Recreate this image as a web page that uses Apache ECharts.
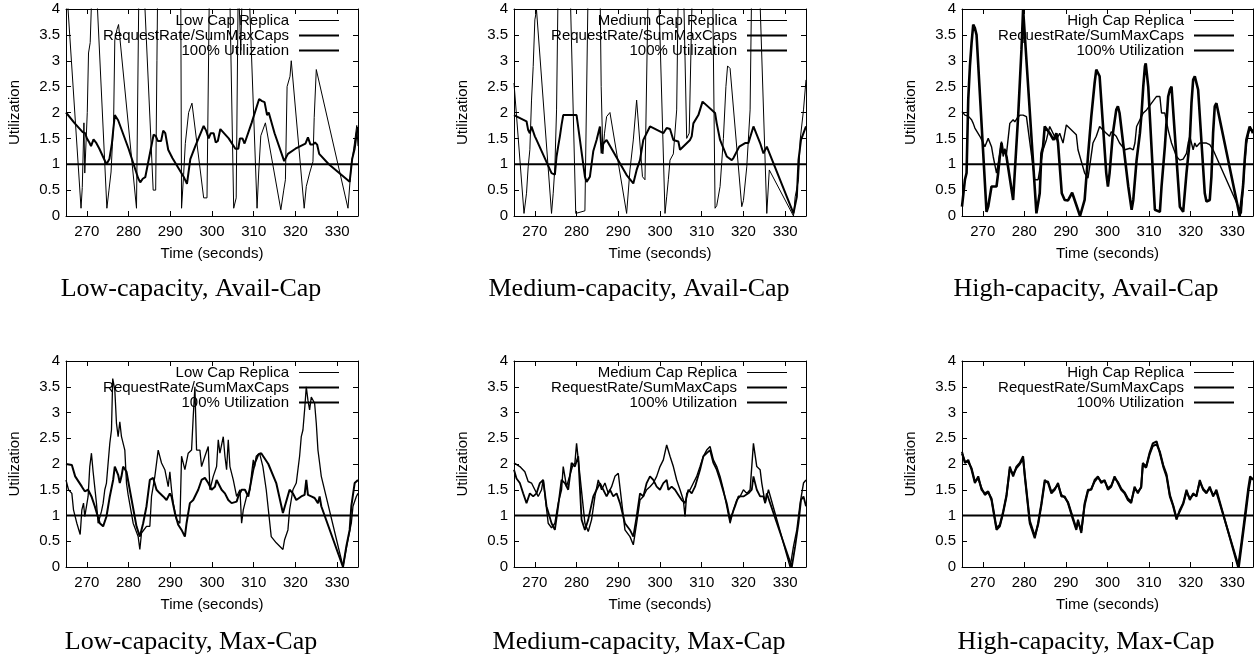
<!DOCTYPE html>
<html>
<head>
<meta charset="utf-8">
<script src="https://cdn.jsdelivr.net/npm/echarts@6/dist/echarts.min.js"></script>
<style>html,body{margin:0;padding:0;background:#fff}#c{width:1258px;height:658px}</style>
</head>
<body>
<div id="c"></div>
<script>
// ---------- data ----------
const panelTitles = ['Low-capacity, Avail-Cap','Medium-capacity, Avail-Cap','High-capacity, Avail-Cap',
                     'Low-capacity, Max-Cap','Medium-capacity, Max-Cap','High-capacity, Max-Cap'];
const replicaNames = ['Low Cap Replica','Medium Cap Replica','High Cap Replica'];
const rateName = 'RequestRate/SumMaxCaps';
const fullName = '100% Utilization';
const timeRange = [265, 335];
const fullUtil = [[265,1],[335,1]];

const lowAvailReplica = [[265,4.6],[268.6,0.15],[268.9,0.55],[269.3,1.8],[269.5,0.83],[269.8,0.85],[270.1,2.0],[270.4,3.15],[270.8,3.35],[271.3,4.6],[272.2,4.6],[274.8,0.15],[275.3,0.5],[275.8,0.85],[276.1,1.35],[276.4,1.75],[276.7,3.4],[277.2,3.6],[277.6,3.7],[281.9,0.15],[282.5,4.6],[283.6,4.6],[285.9,0.5],[286.5,0.5],[286.8,3.0],[287.0,4.6],[292.5,4.6],[292.7,0.15],[293.2,0.8],[293.6,1.4],[294.4,2.0],[295.2,2.18],[298.0,0.35],[298.8,0.35],[299.4,4.6],[304.2,4.6],[305.2,0.15],[305.8,0.35],[306.3,4.6],[306.6,4.6],[306.9,3.2],[307.3,4.6],[308.8,4.6],[310.8,0.15],[311.2,0.85],[311.7,1.55],[312.8,1.8],[316.5,0.12],[317.2,0.5],[317.6,0.7],[318,2.5],[318.7,2.7],[319,3.0],[322.1,0.15],[322.6,0.57],[323.4,0.83],[324.2,1.05],[324.5,1.9],[325,2.83],[332.6,0.15],[333.4,1.0],[333.8,1.2],[334.3,1.5],[334.7,1.75],[335,1.35]];
const lowAvailRate = [[265,2.0],[267,1.8],[269,1.62],[269.6,1.6],[270,1.5],[270.6,1.42],[271,1.35],[271.6,1.48],[272.2,1.42],[273,1.3],[274.7,1.0],[275.4,1.1],[276,1.4],[276.4,1.72],[276.7,1.95],[277.5,1.85],[280,1.3],[282.3,0.73],[282.8,0.65],[283.4,0.72],[284,0.75],[286,1.57],[286.5,1.55],[287,1.45],[287.8,1.45],[288.3,1.65],[288.8,1.6],[289.5,1.28],[290.5,1.12],[293.2,0.76],[294,0.62],[294.8,1.1],[296,1.35],[298,1.74],[298.6,1.65],[299.2,1.5],[299.7,1.6],[300.4,1.6],[300.9,1.42],[301.4,1.45],[302,1.68],[304,1.5],[305.6,1.3],[306.3,1.3],[306.7,1.5],[307.3,1.5],[307.8,1.4],[309.5,1.8],[311.3,2.26],[312,2.22],[312.6,2.2],[313.2,1.95],[313.6,2.0],[315,1.6],[317.3,1.06],[318.2,1.2],[320,1.3],[322.4,1.4],[323,1.52],[323.6,1.38],[324.2,1.38],[324.7,1.42],[325.2,1.38],[325.7,1.2],[328,1.0],[333,0.66],[333.6,1.1],[334.2,1.3],[334.7,1.6],[335,1.72]];

const medAvailReplica = [[265,2.57],[267.4,0.05],[268,0.44],[268.4,0.95],[268.8,1.28],[269.2,2.24],[269.6,2.89],[270,3.79],[270.4,3.98],[270.7,4.0],[274,0.05],[274.4,0.44],[274.8,0.95],[275.2,2.05],[275.6,4.6],[278.4,4.6],[279.8,0.05],[282,0.1],[282.8,4.6],[285.6,4.6],[285.9,2.5],[286.3,1.2],[286.7,1.6],[287.2,1.92],[288,2.0],[292,0.05],[292.8,0.89],[293.6,1.47],[294.4,2.24],[295.8,0.76],[296.4,0.7],[297.2,4.6],[299.6,4.6],[301.2,0.05],[301.6,0.37],[302,0.7],[302.4,1.08],[303.2,1.2],[304,2.05],[304.4,4.6],[305.6,4.6],[306.4,1.5],[307,1.6],[307.8,4.6],[312.6,4.6],[313.2,0.15],[313.6,0.2],[314.4,0.57],[315.2,1.5],[315.8,2.5],[316.2,2.9],[316.8,2.85],[319.6,0.18],[320,0.3],[320.8,0.95],[321.6,2.05],[322,4.6],[323.8,4.6],[325.6,0.05],[326.2,0.89],[332,0.0],[332.4,0.37],[333.2,0.7],[333.6,1.47],[334.4,2.05],[335,2.63]];
const medAvailRate = [[265,1.95],[268,1.83],[268.4,1.66],[268.8,1.6],[269.2,1.73],[269.6,1.73],[270,1.54],[270.4,1.47],[274,0.83],[274.8,0.8],[275.2,1.15],[275.6,1.35],[276,1.54],[276.4,1.76],[276.8,1.95],[280,1.95],[282,0.76],[282.4,0.66],[283.2,0.76],[284,1.25],[284.8,1.47],[285.6,1.73],[286,1.21],[286.4,1.4],[287.2,1.47],[292,0.79],[293.6,0.63],[294.4,0.89],[295.2,1.08],[296,1.47],[297.6,1.73],[300.8,1.6],[301.6,1.7],[302.4,1.68],[303.2,1.47],[304.4,1.44],[304.8,1.28],[307.2,1.47],[307.6,1.54],[308,1.79],[309.2,1.95],[310.2,2.21],[313.2,1.99],[313.6,1.79],[314.4,1.47],[316,1.15],[317.2,1.08],[317.6,1.12],[319,1.34],[320.4,1.41],[321.2,1.41],[322.4,1.73],[324,1.41],[324.8,1.21],[325.6,1.34],[332,0.05],[332.8,0.37],[333.2,1.08],[333.8,1.47],[334.4,1.6],[335,1.73]];

const highAvailReplica = [[265,0.18],[265.7,0.7],[266.1,0.83],[266.5,2.25],[266.9,2.89],[267.3,3.34],[267.7,3.7],[268.1,3.63],[268.5,3.5],[270.9,0.08],[271.3,0.18],[272.1,0.57],[273.3,0.57],[273.7,0.83],[274.1,1.15],[274.5,1.41],[274.9,1.21],[275.3,1.28],[275.7,1.15],[277.3,0.31],[278.5,1.92],[279.3,3.21],[279.7,4.0],[280.1,4.0],[282.9,0.05],[283.7,0.44],[284.1,1.21],[284.5,1.34],[284.9,1.73],[285.3,1.73],[286.1,1.6],[287,1.47],[287.7,1.6],[288.1,1.41],[289,0.44],[289.7,0.31],[290.5,0.3],[291.5,0.45],[293.4,0.0],[294.5,0.31],[295.3,1.15],[295.7,1.54],[296.1,1.92],[296.9,2.57],[297.3,2.83],[297.7,2.8],[298.1,2.7],[299.7,0.83],[300.1,0.57],[300.5,0.83],[301.3,1.6],[302.1,2.05],[302.5,2.12],[302.9,1.99],[305,0.57],[305.8,0.12],[306.2,0.31],[307,1.08],[307.8,1.6],[308.2,1.99],[308.6,2.5],[309,2.89],[309.2,2.95],[309.8,2.5],[311.4,0.12],[312.6,0.08],[313,0.57],[313.8,1.34],[314.6,2.31],[315,2.44],[315.4,2.5],[315.8,2.47],[317.4,0.18],[318.2,0.08],[319,0.83],[319.8,1.47],[320.2,2.18],[320.6,2.63],[321,2.7],[321.4,2.73],[321.8,2.44],[323.4,0.44],[323.8,0.28],[324.6,0.31],[325,0.76],[325.4,1.6],[325.8,2.12],[326.2,2.18],[331.8,0.0],[332.6,0.57],[333,1.08],[333.4,1.47],[334.2,1.73],[335,1.6]];
const highAvailRate = [[265,2.02],[265.7,1.95],[266.1,1.98],[266.5,1.93],[266.9,1.95],[267.3,1.86],[267.7,1.79],[268.1,1.7],[269.3,1.54],[270.1,1.41],[270.5,1.34],[270.9,1.34],[271.3,1.5],[271.7,1.5],[272.1,1.34],[272.5,1.15],[273.3,0.83],[273.7,0.83],[274.1,1.2],[274.5,1.44],[274.9,1.15],[275.3,1.3],[275.7,1.2],[276.5,1.79],[277.3,1.86],[277.7,1.82],[278.5,1.92],[279,1.95],[279.3,1.92],[279.7,1.95],[280.5,1.92],[282.5,0.7],[283.3,0.7],[283.7,0.89],[284.5,1.28],[285.3,1.47],[286.1,1.73],[286.9,1.6],[287.7,1.47],[288.5,1.6],[289.3,1.41],[290.1,1.76],[292.5,1.57],[292.9,1.28],[294.5,0.83],[295.3,0.73],[295.7,0.95],[296.5,1.41],[297.3,1.54],[298.1,1.73],[298.9,1.66],[299.7,1.6],[300.5,1.54],[300.9,1.63],[302.1,1.54],[302.9,1.41],[304.2,1.28],[305.4,1.31],[306.2,1.28],[306.6,1.41],[307,1.73],[308.6,1.99],[309.4,2.05],[311.8,2.31],[312.6,2.31],[313,1.99],[313.8,1.99],[314.6,1.66],[315.4,1.41],[316.6,1.15],[317.4,1.08],[318.2,1.1],[319,1.21],[319.4,1.41],[319.8,1.54],[320.2,1.41],[320.6,1.28],[321,1.41],[321.4,1.34],[322.2,1.41],[323.8,1.41],[324.6,1.38],[325.4,1.28],[325.8,1.31],[332.2,0.05],[332.6,0.5],[333,1.0],[333.4,1.4],[334.2,1.7],[335,1.65]];

const lowMaxReplica = [[265,1.69],[265.6,1.5],[266.4,1.43],[266.8,1.11],[267.6,0.85],[268.4,0.63],[268.8,1.11],[269.2,1.24],[269.5,0.98],[270.3,1.37],[270.7,1.95],[271.1,2.21],[271.5,1.85],[272.3,1.24],[272.7,0.85],[273.5,1.08],[273.9,1.24],[274.3,1.5],[274.7,1.63],[275.1,2.02],[275.5,2.4],[275.9,2.66],[276.2,3.66],[276.7,3.44],[277.1,2.79],[277.5,2.53],[277.9,2.82],[278.3,2.53],[278.7,2.53],[279.1,2.27],[279.5,1.63],[279.9,1.4],[281.1,0.85],[282.3,0.59],[282.7,0.34],[283.1,0.66],[284.3,0.79],[285.1,0.79],[285.5,1.37],[286.3,1.76],[287.1,2.27],[287.9,2.02],[288.7,1.89],[289.5,1.56],[289.9,1.85],[290.3,1.5],[290.7,1.24],[291.5,0.92],[292.3,0.85],[292.7,2.15],[293.5,1.89],[294.3,2.21],[295.1,2.27],[295.5,2.92],[295.9,3.5],[296.3,2.27],[297.1,2.27],[297.5,1.95],[298.3,2.15],[299.1,2.34],[299.5,1.5],[300.3,1.76],[301.1,1.95],[301.5,2.47],[301.9,2.21],[302.7,2.53],[303.1,2.15],[303.5,1.89],[303.9,2.47],[304.3,1.95],[305.1,1.69],[305.9,1.37],[306.7,1.5],[307.1,0.85],[307.5,1.11],[308.3,1.37],[309.1,1.5],[309.5,1.82],[309.9,2.08],[310.2,1.95],[310.6,2.15],[311.4,2.21],[312.2,1.95],[313,1.5],[314.2,0.59],[315.4,0.47],[317,0.34],[317.4,0.53],[318.2,0.72],[318.6,1.11],[319.4,1.5],[320.2,1.63],[321,2.15],[321.4,2.53],[321.8,2.66],[322.2,3.05],[322.6,3.5],[323,3.24],[323.4,3.05],[323.8,3.3],[324.6,3.18],[325,2.79],[325.4,2.27],[325.8,2.02],[326.2,1.76],[331.4,0.01],[332.6,0.53],[333.4,0.85],[333.8,1.18],[334.6,1.37],[335,1.43]];
const lowMaxRate = [[265,2.0],[266.4,1.98],[266.8,1.95],[267.2,1.76],[268.8,1.56],[269.5,1.47],[270.3,1.5],[271.1,1.37],[271.9,1.18],[273.1,0.85],[273.9,0.79],[274.7,0.98],[275.5,1.37],[276.3,1.69],[276.7,1.95],[277.5,1.79],[277.9,1.63],[278.3,1.76],[278.7,1.95],[279.1,1.95],[279.5,1.85],[281.9,0.79],[282.7,0.59],[283.5,0.85],[284.3,1.18],[285.1,1.69],[285.9,1.73],[286.7,1.5],[287.5,1.43],[288.3,1.37],[289.1,1.3],[289.9,1.43],[290.3,1.37],[291.1,1.05],[291.9,0.82],[292.7,0.72],[293.5,0.59],[293.9,0.85],[294.7,1.24],[295.5,1.3],[296.7,1.5],[297.5,1.69],[298.3,1.73],[299.1,1.63],[299.9,1.5],[300.7,1.56],[301.1,1.69],[301.5,1.66],[302.3,1.5],[303.1,1.43],[303.9,1.3],[304.7,1.24],[305.9,1.27],[306.3,1.37],[307.1,1.5],[307.9,1.5],[308.7,1.37],[309.9,1.89],[310.3,2.02],[311.1,2.18],[311.8,2.21],[313.5,2.0],[315.4,1.63],[317,1.05],[317.4,1.05],[318.6,1.5],[319.4,1.43],[320.2,1.3],[321.4,1.37],[322.2,1.4],[322.6,1.69],[323,1.4],[323.8,1.37],[324.6,1.34],[325.4,1.24],[325.8,1.37],[326.2,1.18],[331.4,0.0],[332.2,0.4],[333,0.72],[333.4,1.18],[334.2,1.63],[335,1.69]];

const medMaxReplica = [[265,2.02],[266.4,1.95],[266.8,1.98],[267.6,1.85],[268.4,1.66],[269.2,1.63],[270,1.5],[270.8,1.37],[271.6,1.5],[272,1.69],[273.2,0.85],[274,0.76],[274.8,0.85],[275.6,1.24],[276.4,1.5],[276.8,1.95],[277.6,1.56],[279,1.95],[279.6,2.02],[280,2.4],[282,0.85],[282.8,0.69],[283.6,0.92],[284.4,1.37],[285.2,1.69],[286,1.5],[286.8,1.63],[287.6,1.43],[288.4,1.56],[289.2,1.76],[290,1.82],[291.6,0.72],[292.8,0.59],[293.6,0.43],[294.4,0.85],[295.2,1.3],[296,1.37],[296.8,1.5],[297.6,1.56],[298.4,1.63],[299.2,1.76],[300,1.95],[300.8,2.08],[301.6,2.37],[302.4,2.15],[303.2,1.95],[304,1.69],[304.8,1.5],[305.6,1.3],[306,0.98],[306.4,1.43],[307.2,1.5],[308,1.63],[308.8,1.76],[309.6,1.95],[310.4,2.15],[311.2,2.27],[312,2.34],[312.8,2.08],[313.6,1.95],[314.4,1.76],[315.2,1.5],[316,1.18],[316.8,0.85],[317.6,1.11],[318.4,1.3],[319.2,1.37],[320,1.5],[320.8,1.43],[321.6,1.5],[322.4,2.4],[323.2,1.95],[324,1.89],[324.4,1.63],[325.2,1.24],[326,1.5],[331.2,0.0],[332,0.4],[332.8,0.72],[333.6,1.24],[334.4,1.63],[335,1.69]];
const medMaxRate = [[265,1.89],[265.6,1.72],[266.4,1.63],[267.2,1.43],[268,1.24],[268.8,1.43],[269.6,1.37],[270.4,1.43],[271.2,1.63],[272,1.69],[272.8,1.18],[274,0.85],[274.8,0.72],[275.6,1.18],[276.4,1.69],[277.2,1.63],[278,1.5],[278.8,2.02],[279.6,1.95],[280.4,2.15],[281.2,0.92],[282,0.72],[282.8,0.92],[284,1.37],[284.8,1.5],[285.6,1.63],[286.4,1.5],[287.2,1.37],[288,1.5],[288.8,1.37],[289.6,1.43],[290.4,1.24],[291.6,0.85],[292.8,0.72],[293.6,0.59],[294.4,0.98],[295.2,1.43],[296,1.37],[296.8,1.63],[297.6,1.76],[298.4,1.69],[299.2,1.56],[300,1.5],[300.8,1.63],[301.6,1.69],[302,1.5],[302.8,1.56],[303.6,1.5],[304.4,1.4],[305.2,1.3],[306,1.24],[306.8,1.5],[307.6,1.43],[308.4,1.56],[309.6,1.89],[310.4,2.15],[311.2,2.21],[312,2.27],[312.8,2.02],[313.6,1.89],[314.4,1.69],[316,1.24],[316.8,0.92],[318,1.18],[318.8,1.37],[320,1.37],[321.2,1.43],[322,1.5],[322.4,1.76],[323.2,1.5],[324,1.37],[324.8,1.37],[325.2,1.24],[325.6,1.43],[331.6,0.0],[332.4,0.4],[333.2,0.85],[333.8,1.3],[334.4,1.37],[335,1.18]];

const highMaxReplica = [[265,2.24],[265.7,2.02],[266.5,2.08],[267.3,1.89],[268.1,1.63],[268.9,1.76],[269.7,1.5],[270.5,1.43],[271.3,1.47],[272.1,1.3],[273.3,0.72],[274.1,0.79],[274.9,1.05],[275.7,1.37],[276.5,1.95],[277.3,1.76],[278.1,1.95],[278.9,2.02],[279.7,2.15],[280.1,1.76],[281.3,0.85],[282.5,0.56],[283.3,0.85],[284.1,1.24],[284.9,1.69],[285.7,1.63],[286.5,1.43],[287.3,1.5],[288.1,1.63],[288.9,1.37],[289.7,1.37],[290.5,1.24],[291.7,0.92],[292.5,0.72],[292.9,0.92],[293.7,0.66],[294.5,1.24],[295.3,1.5],[296.1,1.5],[296.9,1.69],[297.7,1.76],[298.5,1.63],[299.3,1.69],[300.1,1.5],[300.9,1.56],[301.7,1.76],[302.5,1.63],[303.3,1.5],[304.1,1.43],[304.9,1.3],[305.7,1.24],[306.5,1.56],[307.3,1.43],[308.1,1.56],[308.5,2.02],[309.3,1.95],[310.1,2.21],[310.9,2.4],[311.8,2.44],[312.6,2.21],[313.4,1.95],[314.2,1.76],[315,1.37],[315.8,1.18],[316.6,0.92],[317.4,1.11],[318.2,1.24],[319,1.5],[319.8,1.3],[320.6,1.43],[321.4,1.37],[322.2,1.69],[323,1.5],[323.8,1.43],[324.6,1.56],[325.4,1.37],[326.2,1.5],[331.4,0.0],[332.2,0.47],[333,0.98],[333.8,1.5],[334.3,1.76],[335,1.69]];
const highMaxRate = [[265,2.2],[265.7,2.05],[266.5,2.04],[267.3,1.92],[268.1,1.66],[268.9,1.72],[269.7,1.53],[270.5,1.4],[271.3,1.45],[272.1,1.33],[273.3,0.76],[274.1,0.82],[274.9,1.08],[275.7,1.4],[276.5,1.9],[277.3,1.8],[278.1,1.92],[278.9,2.0],[279.7,2.1],[280.1,1.8],[281.3,0.9],[282.5,0.6],[283.3,0.82],[284.1,1.2],[284.9,1.65],[285.7,1.66],[286.5,1.46],[287.3,1.52],[288.1,1.6],[288.9,1.4],[289.7,1.35],[290.5,1.26],[291.7,0.95],[292.5,0.75],[292.9,0.88],[293.7,0.7],[294.5,1.2],[295.3,1.47],[296.1,1.52],[296.9,1.66],[297.7,1.74],[298.5,1.66],[299.3,1.67],[300.1,1.53],[300.9,1.58],[301.7,1.73],[302.5,1.65],[303.3,1.52],[304.1,1.45],[304.9,1.33],[305.7,1.27],[306.5,1.52],[307.3,1.46],[308.1,1.54],[308.5,1.98],[309.3,1.93],[310.1,2.18],[310.9,2.35],[311.8,2.38],[312.6,2.24],[313.4,1.98],[314.2,1.8],[315,1.4],[315.8,1.2],[316.6,0.95],[317.4,1.08],[318.2,1.22],[319,1.46],[319.8,1.33],[320.6,1.4],[321.4,1.4],[322.2,1.65],[323,1.52],[323.8,1.45],[324.6,1.53],[325.4,1.4],[326.2,1.45],[331.6,0.0],[332.4,0.5],[333.2,1.0],[334,1.52],[334.5,1.74],[335,1.7]];

const replicaData = [lowAvailReplica, medAvailReplica, highAvailReplica, lowMaxReplica, medMaxReplica, highMaxReplica];
const rateData = [lowAvailRate, medAvailRate, highAvailRate, lowMaxRate, medMaxRate, highMaxRate];

// ---------- layout / style ----------
const SANS = "'Liberation Sans', Arial, Helvetica, sans-serif";
const SERIF = "'Liberation Serif', 'Times New Roman', serif";
const FS = 15;
const gridBoxes = [
  {left:66, top:9, width:292, height:207},
  {left:514, top:9, width:292, height:207},
  {left:962, top:9, width:291, height:207},
  {left:66, top:361, width:292, height:206},
  {left:514, top:361, width:292, height:206},
  {left:962, top:361, width:291, height:206}
];
const titleCenters = [191, 639, 1086, 191, 639, 1086];
const replicaWidth = [1, 1, 2.6, 1.3, 1.4, 2];
const rateWidth = [2, 2, 1.4, 2, 1.8, 2];

const grid = [], xAxis = [], yAxis = [], series = [], legend = [], title = [];
const tick = {inside:true, length:5, lineStyle:{color:'#000', width:1}};
const line = {show:true, onZero:false, lineStyle:{color:'#000', width:1}};
gridBoxes.forEach((g, i) => {
  grid.push(Object.assign({containLabel:false}, g));
  xAxis.push({gridIndex:i, type:'value', min:timeRange[0], max:timeRange[1], splitNumber:7,
    axisLine:line, axisTick:tick, splitLine:{show:false},
    axisLabel:{showMinLabel:false, showMaxLabel:false, color:'#000', fontSize:FS, fontFamily:SANS, margin:8},
    name:'Time (seconds)', nameLocation:'middle', nameGap:30,
    nameTextStyle:{color:'#000', fontSize:FS, fontFamily:SANS}});
  yAxis.push({gridIndex:i, type:'value', min:0, max:4, interval:0.5,
    axisLine:line, axisTick:tick, splitLine:{show:false},
    axisLabel:{color:'#000', fontSize:FS, fontFamily:SANS, margin:6},
    name:'Utilization', nameLocation:'middle', nameGap:44, nameRotate:90,
    nameTextStyle:{color:'#000', fontSize:FS, fontFamily:SANS}});
});
gridBoxes.forEach((g, i) => {
  xAxis.push({gridIndex:i, type:'value', position:'top', min:timeRange[0], max:timeRange[1], splitNumber:7,
    axisLine:line, axisTick:tick, splitLine:{show:false}, axisLabel:{show:false}});
  yAxis.push({gridIndex:i, type:'value', position:'right', min:0, max:4, interval:0.5,
    axisLine:line, axisTick:tick, splitLine:{show:false}, axisLabel:{show:false}});
});
const hiddenSymbol = {opacity:0};
gridBoxes.forEach((g, i) => {
  const rName = replicaNames[i % 3];
  series.push({name:rName, type:'line', xAxisIndex:i, yAxisIndex:i, data:replicaData[i],
    symbol:'none', clip:true, animation:false,
    lineStyle:{color:'#000', width:replicaWidth[i]}, itemStyle:{color:'#000'}});
  series.push({name:rateName, type:'line', xAxisIndex:i, yAxisIndex:i, data:rateData[i],
    symbol:'none', clip:true, animation:false,
    lineStyle:{color:'#000', width:rateWidth[i]}, itemStyle:{color:'#000'}});
  series.push({name:fullName, type:'line', xAxisIndex:i, yAxisIndex:i, data:fullUtil,
    symbol:'none', clip:true, animation:false,
    lineStyle:{color:'#000', width:2}, itemStyle:{color:'#000'}});
  legend.push({
    data:[
      {name:rName, itemStyle:hiddenSymbol, lineStyle:{width:1, color:'#000'}},
      {name:rateName, itemStyle:hiddenSymbol, lineStyle:{width:2, color:'#000'}},
      {name:fullName, itemStyle:hiddenSymbol, lineStyle:{width:2, color:'#000'}}
    ],
    orient:'vertical', align:'right',
    right:1258 - (g.left + g.width - 18), top:g.top + 4, padding:0, itemGap:0,
    itemWidth:40, itemHeight:12, selectedMode:false,
    textStyle:{color:'#000', fontSize:FS, fontFamily:SANS, padding:[0,5,0,0]}});
  title.push({text:panelTitles[i], left:titleCenters[i], textAlign:'center',
    top: i < 3 ? 276 : 629, padding:0,
    textStyle:{color:'#000', fontSize:26, fontWeight:'normal', fontFamily:SERIF}});
});

const chart = echarts.init(document.getElementById('c'), null, {renderer:'canvas'});
chart.setOption({backgroundColor:'#fff', animation:false, grid, xAxis, yAxis, series, legend, title});
</script>
</body>
</html>
